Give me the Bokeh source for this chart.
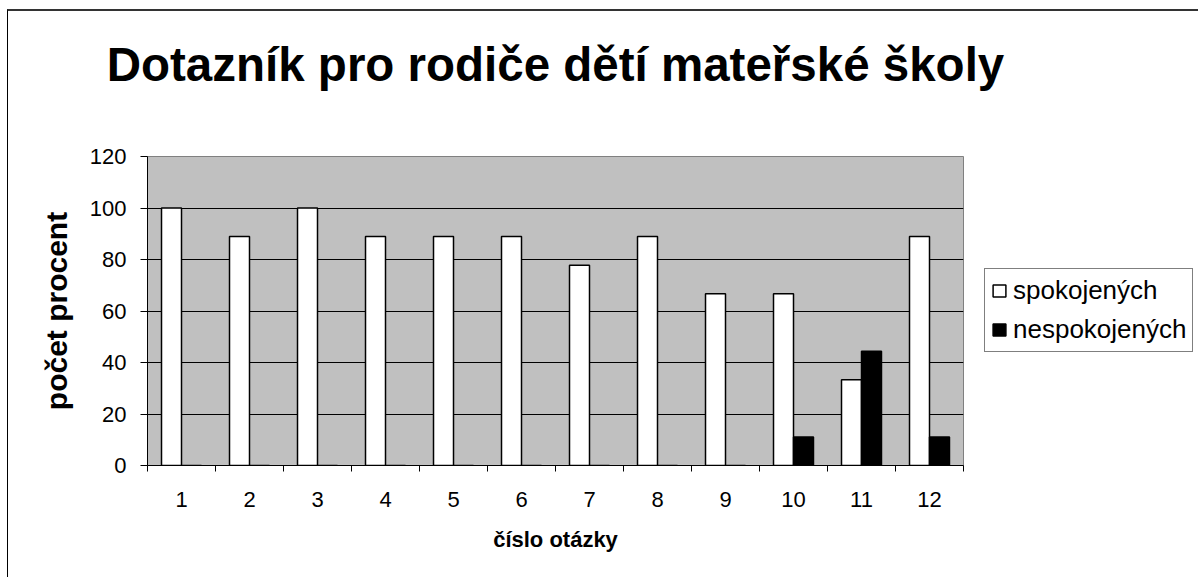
from bokeh.plotting import figure
from bokeh.models import (ColumnDataSource, Range1d, FixedTicker, Legend, LegendItem, LinearAxis)
from bokeh.transform import dodge
from bokeh.embed import file_html
from bokeh.resources import INLINE

# ---- data ----
questions = [1, 2, 3, 4, 5, 6, 7, 8, 9, 10, 11, 12]
tick_labels = [str(q) for q in questions]
spokojenych = [100, 88.9, 100, 88.9, 88.9, 88.9, 77.8, 88.9, 66.7, 66.7, 33.3, 88.9]
nespokojenych = [0, 0, 0, 0, 0, 0, 0, 0, 0, 11.1, 44.4, 11.1]
y_ticks = [0, 20, 40, 60, 80, 100, 120]
grid_ticks = [20, 40, 60, 80, 100]
title_text = "Dotazník pro rodiče dětí mateřské školy"
x_title = "číslo otázky"
y_title = "počet procent"
series_names = ["spokojených", "nespokojených"]

FONT = "Liberation Sans"

src = ColumnDataSource(dict(q=questions, s=spokojenych, n=nespokojenych))

p = figure(frame_width=816, frame_height=309, output_backend="svg", toolbar_location=None,
           x_range=Range1d(0.5, 12.5), y_range=Range1d(0, 120),
           min_border_left=139, min_border_top=145, min_border_right=235, min_border_bottom=112,
           background_fill_color="#C0C0C0", border_fill_color="white",
           outline_line_color="#808080", outline_line_width=1)
p.margin = (9, 0, 0, 7)
p.styles = {"border-top": "2px solid #333333", "border-left": "1px solid #000000"}

bw = 0.294
r1 = p.vbar(x=dodge("q", -bw / 2, range=p.x_range), top="s", width=bw, source=src,
            fill_color="white", line_color="black", line_width=1.5)
r2 = p.vbar(x=dodge("q", bw / 2, range=p.x_range), top="n", width=bw, source=src,
            fill_color="black", line_color="black", line_width=1.5)

# grid
p.xgrid.visible = False
p.ygrid.ticker = FixedTicker(ticks=grid_ticks)
p.ygrid.grid_line_color = "black"
p.ygrid.grid_line_width = 1

# y axis
p.yaxis.ticker = FixedTicker(ticks=y_ticks)
p.yaxis.axis_line_color = "black"
p.yaxis.major_tick_line_color = "black"
p.yaxis.major_tick_out = 7
p.yaxis.major_tick_in = 0
p.yaxis.minor_tick_line_color = None
p.yaxis.major_label_text_font = FONT
p.yaxis.major_label_text_font_size = "22px"
p.yaxis.major_label_text_color = "black"
p.yaxis.major_label_standoff = 14
p.yaxis.axis_label = y_title
p.yaxis.axis_label_text_font = FONT
p.yaxis.axis_label_text_font_size = "30px"
p.yaxis.axis_label_text_font_style = "bold"
p.yaxis.axis_label_text_color = "black"
p.yaxis.axis_label_standoff = 14

# x axis
p.xaxis.ticker = FixedTicker(ticks=questions, minor_ticks=[q - 0.5 for q in questions] + [questions[-1] + 0.5])
p.xaxis.major_label_overrides = {q: t for q, t in zip(questions, tick_labels)}
p.xaxis.axis_line_color = "black"
p.xaxis.major_tick_line_color = None
p.xaxis.major_tick_out = 0
p.xaxis.major_tick_in = 0
p.xaxis.minor_tick_line_color = "black"
p.xaxis.minor_tick_out = 6
p.xaxis.minor_tick_in = 0
p.xaxis.major_label_text_font = FONT
p.xaxis.major_label_text_font_size = "22px"
p.xaxis.major_label_text_color = "black"
p.xaxis.major_label_standoff = 20
p.xaxis.axis_label = x_title
p.xaxis.axis_label_text_font = FONT
p.xaxis.axis_label_text_font_size = "22px"
p.xaxis.axis_label_text_font_style = "bold"
p.xaxis.axis_label_text_color = "black"
p.xaxis.axis_label_standoff = 17

# chart title: drawn as the label of a bare axis above the plot area
# (bounds shift the label centre to the right, as in the reference)
title_axis = LinearAxis(ticker=FixedTicker(ticks=[]), bounds=(2.176, 12.5),
                        axis_line_color=None, major_tick_line_color=None,
                        minor_tick_line_color=None, major_tick_out=0, major_tick_in=0,
                        minor_tick_out=0, minor_tick_in=0, major_label_standoff=0,
                        axis_label=title_text, axis_label_text_font=FONT,
                        axis_label_text_font_size="47.5px", axis_label_text_font_style="bold",
                        axis_label_text_color="black", axis_label_standoff=66)
p.add_layout(title_axis, "above")

legend = Legend(items=[LegendItem(label=series_names[0], renderers=[r1]),
                       LegendItem(label=series_names[1], renderers=[r2])],
                location=(21, 113), orientation="vertical",
                border_line_color="black", border_line_width=1,
                background_fill_color="white", background_fill_alpha=1,
                label_text_font=FONT, label_text_font_size="26px", label_text_color="black",
                glyph_width=16, glyph_height=15, label_standoff=6,
                padding=6, spacing=8, margin=0)
p.add_layout(legend, "right")

open("out.html", "w").write(file_html(p, INLINE))
